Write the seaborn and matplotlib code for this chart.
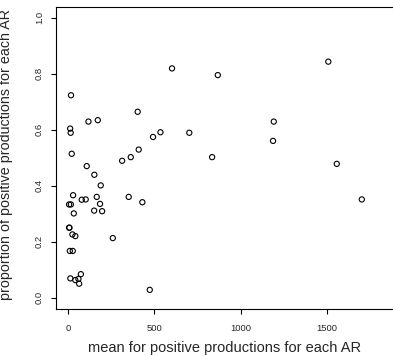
import numpy as np
import pandas as pd
import matplotlib
matplotlib.use('Agg')
import matplotlib.pyplot as plt
import seaborn as sns

# values
mean_pos = [17, 118, 172, 403, 12, 15, 492, 535, 21, 409, 363, 313, 108, 152, 189,
            29, 79, 102, 166, 351, 430, 6, 16, 185, 33, 151, 197, 6, 8, 25, 42, 259,
            10, 27, 74, 13, 42, 60, 64, 473, 602, 867, 702, 1191, 1187, 834, 1507,
            1556, 1701]
prop_pos = [0.723, 0.629, 0.634, 0.664, 0.604, 0.589, 0.574, 0.591, 0.514, 0.529,
            0.502, 0.489, 0.470, 0.439, 0.401, 0.366, 0.350, 0.351, 0.360, 0.360,
            0.341, 0.333, 0.333, 0.335, 0.301, 0.311, 0.309, 0.250, 0.250, 0.226,
            0.220, 0.213, 0.167, 0.167, 0.084, 0.069, 0.063, 0.067, 0.050, 0.028,
            0.819, 0.795, 0.589, 0.629, 0.560, 0.502, 0.843, 0.478, 0.351]
x_ticks = [0, 500, 1000, 1500]
y_ticks = [0.0, 0.2, 0.4, 0.6, 0.8, 1.0]

df = pd.DataFrame({'mean': mean_pos, 'prop': prop_pos})

sns.set_style('ticks')
plt.rcParams['font.family'] = ['Liberation Sans', 'DejaVu Sans']

fig = plt.figure(figsize=(3.93, 3.56), dpi=100)
ax = fig.add_axes([56 / 393, (356 - 308.9) / 356, 340 / 393, 302.4 / 356])

sns.scatterplot(data=df, x='mean', y='prop', ax=ax, marker='o', s=14,
                facecolor='none', edgecolor='black', linewidth=0.8)

ax.set_xlim(-70, 1899)
ax.set_ylim(-0.04, 1.04)
ax.set_xticks(x_ticks)
ax.set_xticklabels([str(v) for v in x_ticks])
ax.set_yticks(y_ticks)
ax.set_yticklabels([f'{v:.1f}' for v in y_ticks], rotation=90, va='center')
ax.tick_params(axis='both', direction='out', length=3.6, width=0.8,
               labelsize=6.8, color='black')
ax.tick_params(axis='x', pad=7)
ax.tick_params(axis='y', pad=5)

for sp in ax.spines.values():
    sp.set_visible(True)
    sp.set_linewidth(0.8)
    sp.set_color('black')

ax.set_xlabel('mean for positive productions for each AR', fontsize=10.5)
ax.set_ylabel('proportion of positive productions for each AR', fontsize=10.3)
ax.xaxis.set_label_coords(0.497, -0.105)
ax.yaxis.set_label_coords(-0.125, 0.512)

fig.savefig('out.png', dpi=100)
